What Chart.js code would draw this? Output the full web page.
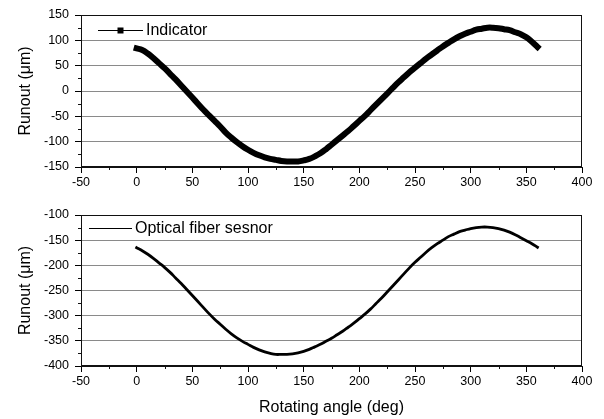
<!DOCTYPE html>
<html>
<head>
<meta charset="utf-8">
<script src="https://cdn.jsdelivr.net/npm/chart.js@4"></script>
<style>
  body { margin: 0; background: #fff; }
  .panel { position: absolute; left: 0; width: 604px; }
  #top-panel { top: 0; height: 192px; }
  #bottom-panel { top: 192px; height: 227px; }
</style>
</head>
<body>
<div class="panel" id="top-panel"><canvas id="indicator-chart"></canvas></div>
<div class="panel" id="bottom-panel"><canvas id="fiber-chart"></canvas></div>
<script>
// rotating angle in degrees
const angles = [0, 5, 10, 15, 20, 25, 30, 35, 40, 45, 50, 55, 60, 65, 70, 75, 80, 85, 90, 95,
  100, 105, 110, 115, 120, 125, 130, 135, 140, 145, 150, 155, 160, 165, 170, 175, 180, 185, 190, 195,
  200, 205, 210, 215, 220, 225, 230, 235, 240, 245, 250, 255, 260, 265, 270, 275, 280, 285, 290, 295,
  300, 305, 310, 315, 320, 325, 330, 335, 340, 345, 350, 355, 360];

// runout read by the dial indicator (um)
const indicatorRunout = [84, 81, 74, 65, 55, 45, 34, 23, 11, -1, -13, -25, -37, -48, -59, -70, -82, -92, -101, -109,
  -116, -122, -127, -131, -134, -136, -138, -139, -139, -139, -137, -134, -129, -123, -115, -106, -97, -88, -79, -69,
  -59, -49, -38, -27, -16, -5, 6, 17, 27, 37, 46, 55, 64, 72, 80, 88, 95, 102, 108, 113,
  117, 121, 123, 125, 125, 124, 122, 120, 116, 112, 106, 97, 87];

// runout read by the optical fiber sensor (um)
const fiberRunout = [-165, -171, -178, -186, -195, -204, -214, -225, -236, -248, -260, -272, -284, -296, -307, -317, -327, -336, -344, -351,
  -357, -363, -368, -372, -375, -377, -377, -377, -376, -374, -371, -367, -362, -357, -351, -345, -338, -331, -323, -315,
  -306, -297, -287, -276, -265, -253, -241, -229, -217, -205, -194, -184, -174, -165, -157, -150, -143, -138, -133, -130,
  -127, -125, -124, -124, -125, -127, -130, -134, -139, -145, -151, -157, -164];

const xTicks = { min: -50, max: 400, step: 50 };
const topYTicks = { min: -150, max: 150, step: 50 };
const bottomYTicks = { min: -400, max: -100, step: 50 };

const FONT = '"Liberation Sans", Arial, sans-serif';

// box around the plot area plus the small minor ticks between the labelled ones
const frameAndMinorTicks = {
  id: 'frameAndMinorTicks',
  afterDraw(chart) {
    const { ctx, chartArea: a, scales } = chart;
    ctx.save();
    ctx.strokeStyle = '#111';
    ctx.lineWidth = 1;
    ctx.strokeRect(Math.round(a.left) + 0.5, Math.round(a.top) + 0.5,
      Math.round(a.right - a.left) - 1, Math.round(a.bottom - a.top) - 1);
    ctx.beginPath();
    const xs = scales.x;
    for (let v = xs.min + 25; v < xs.max; v += 50) {
      const px = Math.round(xs.getPixelForValue(v)) + 0.5;
      ctx.moveTo(px, a.bottom);
      ctx.lineTo(px, a.bottom + 3);
    }
    const ys = scales.y;
    for (let v = ys.min + 25; v < ys.max; v += 50) {
      const py = Math.round(ys.getPixelForValue(v)) + 0.5;
      ctx.moveTo(a.left, py);
      ctx.lineTo(a.left - 3, py);
    }
    ctx.stroke();
    ctx.restore();
  }
};

// legend drawn inside the plot, like the original figure
const insideLegend = {
  id: 'insideLegend',
  afterDraw(chart, args, opts) {
    const ctx = chart.ctx;
    ctx.save();
    ctx.strokeStyle = '#000';
    ctx.lineWidth = 1;
    ctx.beginPath();
    ctx.moveTo(opts.x1, opts.y + 0.5);
    ctx.lineTo(opts.x2, opts.y + 0.5);
    ctx.stroke();
    if (opts.marker) {
      ctx.fillStyle = '#000';
      const mx = (opts.x1 + opts.x2) / 2;
      ctx.fillRect(mx - 3, opts.y - 2.5, 6, 6);
    }
    ctx.fillStyle = '#000';
    ctx.font = '16px ' + FONT;
    ctx.textBaseline = 'middle';
    ctx.fillText(opts.text, opts.x2 + 3, opts.y + 1);
    ctx.restore();
  }
};

function makeChart(canvasId, values, yTicks, opt) {
  const ctx = document.getElementById(canvasId).getContext('2d');
  return new Chart(ctx, {
    type: 'line',
    data: {
      datasets: [{
        data: angles.map((a, i) => ({ x: a, y: values[i] })),
        borderColor: '#000',
        backgroundColor: '#000',
        borderWidth: opt.lineWidth,
        borderCapStyle: 'square',
        pointRadius: 0,
        tension: 0.4,
        fill: false
      }]
    },
    options: {
      responsive: true,
      maintainAspectRatio: false,
      animation: false,
      layout: { padding: { left: 0, right: 22, top: opt.padTop, bottom: 0 } },
      plugins: {
        legend: { display: false },
        tooltip: { enabled: false },
        insideLegend: opt.legend
      },
      scales: {
        x: {
          type: 'linear',
          min: xTicks.min,
          max: xTicks.max,
          afterFit: s => { s.height = opt.xHeight; },
          ticks: { stepSize: xTicks.step, color: '#000', padding: 2, maxRotation: 0,
            font: { family: FONT, size: 12.5 } },
          grid: { drawOnChartArea: false, tickLength: 6, tickColor: '#000' },
          border: { color: '#111' },
          title: {
            display: opt.xTitle,
            text: 'Rotating angle (deg)',
            color: '#000',
            font: { family: FONT, size: 16 },
            padding: { top: 0, bottom: 2 }
          }
        },
        y: {
          min: yTicks.min,
          max: yTicks.max,
          afterFit: s => { s.width = 81; },
          ticks: { stepSize: yTicks.step, color: '#000', padding: 6,
            font: { family: FONT, size: 12.5 } },
          grid: { color: '#8a8a8a', tickColor: '#000', tickLength: 6 },
          border: { color: '#111' },
          title: {
            display: true,
            text: 'Runout (\u03bcm)',
            color: '#000',
            font: { family: FONT, size: 16 },
            padding: { top: 16, bottom: 0 }
          }
        }
      }
    },
    plugins: [frameAndMinorTicks, insideLegend]
  });
}

makeChart('indicator-chart', indicatorRunout, topYTicks, {
  lineWidth: 6, padTop: 15, xHeight: 25, xTitle: false,
  legend: { x1: 98, x2: 143, y: 30, text: 'Indicator', marker: true }
});

makeChart('fiber-chart', fiberRunout, bottomYTicks, {
  lineWidth: 2.8, padTop: 23, xHeight: 53, xTitle: true,
  legend: { x1: 89, x2: 132, y: 36, text: 'Optical fiber sesnor', marker: false }
});
</script>
</body>
</html>
